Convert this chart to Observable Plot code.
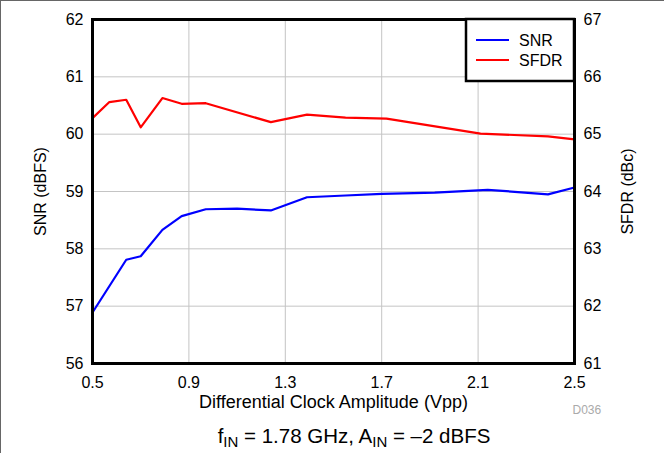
<!DOCTYPE html>
<html>
<head>
<meta charset="utf-8">
<script src="https://cdn.jsdelivr.net/npm/d3@7"></script>
<script src="https://cdn.jsdelivr.net/npm/@observablehq/plot@0.6"></script>
<style>
  html, body { margin: 0; padding: 0; background: #fff; }
  #wrap { position: relative; width: 664px; height: 453px; overflow: hidden; }
  #wrap::before { content: ""; position: absolute; left: 0; top: 0; width: 664px; height: 453px;
    border-top: 1px solid #666; border-left: 1px solid #666; box-sizing: border-box; pointer-events: none; z-index: 2; }
</style>
</head>
<body>
<div id="wrap"></div>
<script>
// X tick labels
const xTicks = [0.5, 0.9, 1.3, 1.7, 2.1, 2.5];
const snrTicks = [56, 57, 58, 59, 60, 61, 62];
const sfdrTicks = [61, 62, 63, 64, 65, 66, 67];

// SNR series (dBFS)
const snrX = [0.5, 0.64, 0.7, 0.79, 0.87, 0.97, 1.1, 1.24, 1.39, 1.55, 1.7, 1.92, 2.14, 2.39, 2.5];
const snrY = [56.89, 57.81, 57.87, 58.33, 58.57, 58.69, 58.70, 58.67, 58.90, 58.93, 58.96, 58.98, 59.03, 58.95, 59.07];

// SFDR series (dBc)
const sfdrX = [0.5, 0.57, 0.64, 0.7, 0.79, 0.87, 0.97, 1.24, 1.39, 1.55, 1.72, 2.11, 2.39, 2.5];
const sfdrY = [65.28, 65.56, 65.60, 65.12, 65.63, 65.53, 65.54, 65.21, 65.34, 65.29, 65.27, 65.01, 64.96, 64.91];

const seriesNames = ["SNR", "SFDR"];
const seriesColors = ["#0000ff", "#ff0000"];
const offset = 5; // SFDR axis = SNR axis + 5

const snr = snrX.map((x, i) => ({x, y: snrY[i]}));
const sfdr = sfdrX.map((x, i) => ({x, y: sfdrY[i]}));

const font = "'Liberation Sans', Arial, Helvetica, sans-serif";

const chart = Plot.plot({
  width: 664,
  height: 453,
  marginLeft: 92,
  marginRight: 90,
  marginTop: 19,
  marginBottom: 90,
  style: {fontFamily: font, fontSize: "16px", color: "#000", background: "transparent"},
  x: {domain: [0.5, 2.5]},
  y: {domain: [56, 62]},
  marks: [
    Plot.gridX(xTicks, {stroke: "#c4c4c4", strokeOpacity: 1, strokeWidth: 1}),
    Plot.gridY(snrTicks, {stroke: "#c4c4c4", strokeOpacity: 1, strokeWidth: 1}),
    Plot.axisX(xTicks, {tickSize: 0, tickPadding: 13, tickFormat: d => d.toFixed(1), label: null, fontSize: 16}),
    Plot.axisY(snrTicks, {anchor: "left", tickSize: 0, tickPadding: 9, tickFormat: d => String(d), label: null, fontSize: 16}),
    Plot.axisY(sfdrTicks.map(d => d - offset), {anchor: "right", tickSize: 0, tickPadding: 9, tickFormat: d => String(d + offset), label: null, fontSize: 16}),
    Plot.line(snr, {x: "x", y: "y", stroke: seriesColors[0], strokeWidth: 2.2}),
    Plot.line(sfdr, {x: "x", y: d => d.y - offset, stroke: seriesColors[1], strokeWidth: 2.2}),
    Plot.frame({stroke: "#000", strokeWidth: 3}),
    Plot.text(["SNR (dBFS)"], {frameAnchor: "left", dx: -52, rotate: -90, textAnchor: "middle", fontSize: 16}),
    Plot.text(["SFDR (dBc)"], {frameAnchor: "right", dx: 53, rotate: -90, textAnchor: "middle", fontSize: 16}),
    Plot.text(["Differential Clock Amplitude (Vpp)"], {frameAnchor: "bottom", dy: 44, fontSize: 18}),
    Plot.text(["D036"], {frameAnchor: "bottom-right", dx: -2, dy: 50, textAnchor: "start", fontSize: 12, fill: "#aaaaaa"})
  ]
});

const svg = d3.select(chart);

// Legend
const lg = svg.append("g").attr("font-family", font).attr("font-size", 16).attr("text-anchor", "start");
lg.append("rect").attr("x", 466).attr("y", 19).attr("width", 108).attr("height", 62)
  .attr("fill", "#fff").attr("stroke", "#000").attr("stroke-width", 2.5);
seriesNames.forEach((name, i) => {
  const yy = 40 + i * 20;
  lg.append("line").attr("x1", 476).attr("x2", 509).attr("y1", yy).attr("y2", yy)
    .attr("stroke", seriesColors[i]).attr("stroke-width", 2.2);
  lg.append("text").attr("x", 519).attr("y", yy).attr("dy", "0.35em")
    .attr("text-anchor", "start").attr("fill", "#000").text(name);
});

// Caption with subscripts
const cap = svg.append("text").attr("x", 354).attr("y", 443).attr("text-anchor", "middle")
  .attr("font-family", font).attr("font-size", 20.5).attr("fill", "#000");
cap.append("tspan").text("f");
cap.append("tspan").attr("font-size", 15).attr("dy", 4).text("IN");
cap.append("tspan").attr("dy", -4).text(" = 1.78 GHz, A");
cap.append("tspan").attr("font-size", 15).attr("dy", 4).text("IN");
cap.append("tspan").attr("dy", -4).text(" = \u20132 dBFS");

document.getElementById("wrap").appendChild(chart);
</script>
</body>
</html>
